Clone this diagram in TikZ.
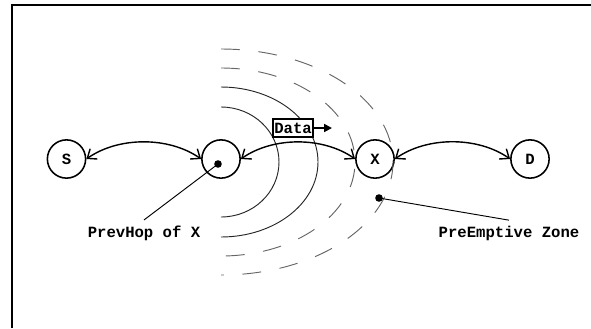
\documentclass[tikz,border=0pt]{standalone}
\usepackage{fontspec}
\setmonofont{Liberation Mono}
\usepackage{tikz}
\usetikzlibrary{arrows.meta}
\tikzset{
    station/.style={draw, circle, line width=1pt, minimum size=24.5pt, inner sep=0pt, font=\ttfamily\bfseries},
    hop/.style={{Straight Barb[length=5pt,width=8pt]}-{Straight Barb[length=5pt,width=8pt]}, line width=0.9pt},
    rangeline/.style={line width=0.6pt, black!85},
    zoneline/.style={line width=0.6pt, black!60, dash pattern=on 12pt off 12pt},
    databox/.style={draw, fill=white, line width=1.2pt, inner xsep=1pt, inner ysep=0pt, minimum height=11.5pt, font=\ttfamily\bfseries},
    caption/.style={font=\ttfamily\bfseries, anchor=base}
}

\begin{document}
\begin{tikzpicture}[x=0.0225cm, y=0.0225cm]
\useasboundingbox (0,0) rectangle (591,328);
\draw[line width=1.3pt] (12,0) -- (12,323) -- (591,323);
\foreach \x/\p/\labeltext in {66.5/S/S, 221/ph/{}, 375/X/X, 530/D/D}{
    \node[station] (\p) at (\x,169) {\labeltext};
}
\coordinate (arcc) at (221,166);
\foreach \rx/\ry/\sty in {58/55/rangeline, 97/75/rangeline, 134/94/zoneline, 172/113/zoneline}{
    \draw[\sty] (arcc) ++(0,\ry) arc[start angle=90, end angle=-90, x radius=\rx, y radius=\ry];
}
\draw[hop] (S.east) to[out=35, in=145, looseness=0.88] (ph.west);
\draw[hop] (ph.east) to[out=35, in=145, looseness=0.88] (X.west);
\draw[hop] (X.east) to[out=35, in=145, looseness=0.88] (D.west);
\node[databox] (data) at (293,200) {Data};
\coordinate (dataend) at (332,200);
\draw[-{Triangle[length=5pt,width=5pt]}, line width=1.2pt] (data.east) -- (dataend);
\coordinate (phdot) at (218,164);
\coordinate (zonedot) at (379,130);
\foreach \p in {phdot, zonedot}{
    \fill (\p) circle (3.8);
}
\node[caption] (prevlbl) at (144,91) {PrevHop of X};
\node[caption] (zonelbl) at (509,91) {PreEmptive Zone};
\draw[line width=0.6pt] (phdot) -- (prevlbl.north);
\draw[line width=0.6pt] (zonedot) -- (zonelbl.north);
\end{tikzpicture}
\end{document}
